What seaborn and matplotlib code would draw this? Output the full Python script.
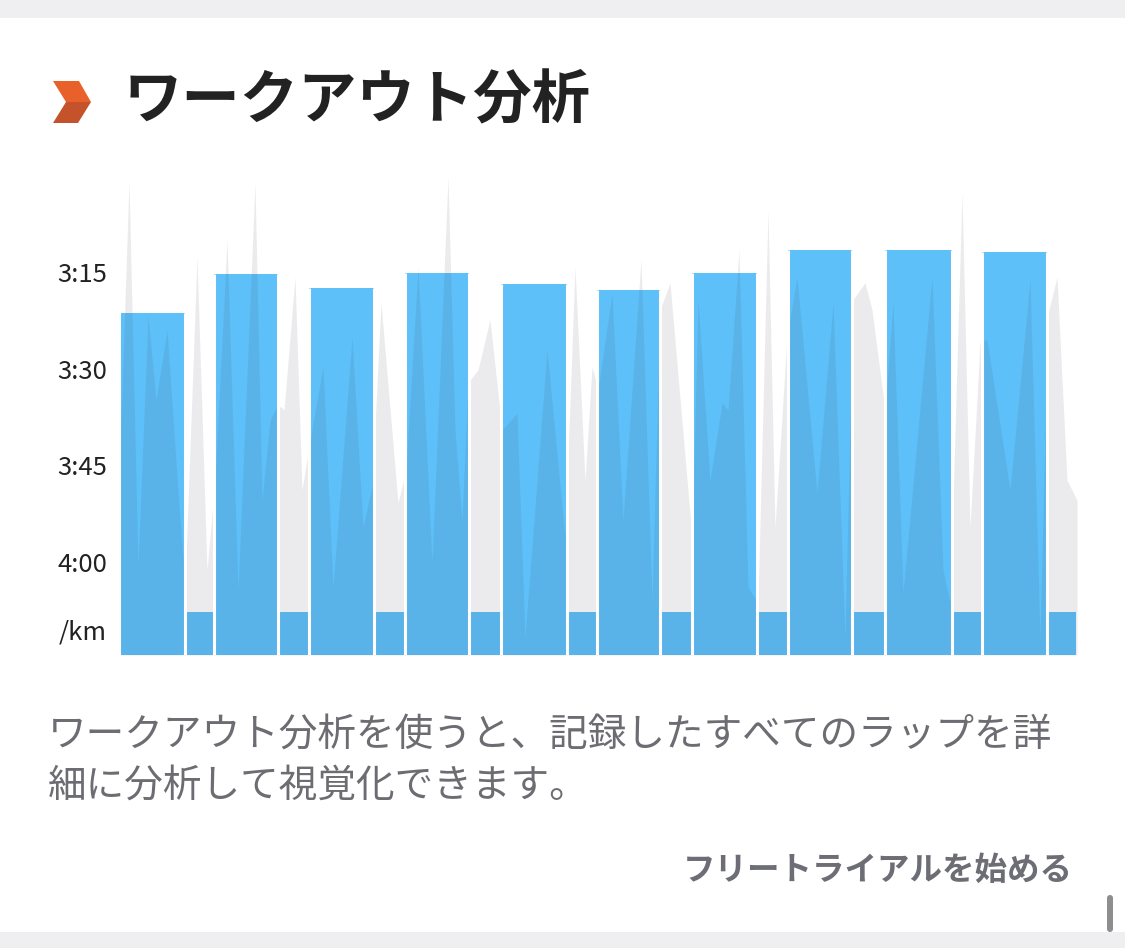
import numpy as np
import pandas as pd
import matplotlib
matplotlib.use('Agg')
import matplotlib.pyplot as plt
import seaborn as sns
from matplotlib.patches import Polygon, Rectangle, FancyBboxPatch

# lap data: duration (s) and pace (s/km); recovery laps shown at a fixed floor value
lap_sec = [192, 87, 192, 93, 195, 93, 192, 96, 198, 90,
           189, 96, 195, 93, 192, 99, 201, 90, 195, 87]
lap_pace = [201.4, 247.8, 195.3, 247.8, 197.5, 247.8, 195.2, 247.8, 196.9, 247.8,
            197.9, 247.8, 195.2, 247.8, 191.7, 247.8, 191.6, 247.8, 191.9, 247.8]

# raw pace trace (elapsed seconds, pace s/km)
trace_t = [0, 24, 51, 81, 105, 138, 174, 192, 228, 258, 282, 318, 351, 402, 423, 447,
           471, 489, 522, 543, 567, 606, 636, 693, 726, 753, 780, 831, 855, 891, 933,
           981, 1002, 1023, 1041, 1071, 1107, 1143, 1188, 1212, 1278, 1332, 1362, 1392,
           1413, 1431, 1473, 1506, 1560, 1593, 1617, 1647, 1713, 1731, 1767, 1803, 1821,
           1854, 1881, 1911, 1941, 1962, 1998, 2028, 2088, 2136, 2172, 2196, 2232, 2253,
           2292, 2316, 2346, 2433, 2466, 2487, 2523, 2547, 2577, 2598, 2667, 2727, 2757,
           2781, 2808, 2838, 2868]
trace_pace = [218.0, 181.0, 240.4, 201.7, 214.9, 204.0, 231.1, 243.5, 192.7, 241.2,
              227.3, 190.0, 244.3, 181.2, 230.4, 218.0, 215.6, 216.4, 195.8, 228.8,
              221.1, 209.7, 243.9, 205.1, 234.6, 228.3, 199.8, 230.8, 225.7, 194.2,
              240.1, 180.3, 219.5, 233.5, 212.2, 210.2, 202.4, 219.5, 216.9, 251.6,
              207.1, 236.1, 194.2, 227.3, 209.7, 213.3, 198.3, 233.5, 193.1, 245.9,
              200.9, 196.7, 236.1, 199.3, 227.3, 215.3, 216.4, 191.6, 243.9, 246.3,
              185.4, 234.6, 205.1, 195.8, 229.3, 199.8, 251.6, 199.3, 196.7, 200.9,
              216.4, 199.8, 244.8, 195.8, 241.2, 246.3, 182.7, 234.6, 206.0, 205.5,
              228.8, 196.2, 251.6, 201.4, 195.8, 227.3, 230.4]

tick_pace = [195, 210, 225, 240, 250.5]
tick_labels = ['3:15', '3:30', '3:45', '4:00', '/km']

floor = 254.4
top = 180.0

sns.set_theme(style='white')
plt.rcParams['font.family'] = ['Noto Sans CJK JP', 'DejaVu Sans']

fig = plt.figure(figsize=(11.25, 9.48), dpi=100)
fig.patch.set_facecolor('white')

# page background / card decorations in pixel coords
bg = fig.add_axes([0, 0, 1, 1], zorder=-1)
bg.set_xlim(0, 1125)
bg.set_ylim(948, 0)
bg.axis('off')
bg.add_patch(Rectangle((0, 0), 1125, 18, color='#efeff2', lw=0))
bg.add_patch(Rectangle((0, 932), 1125, 16, color='#efeff2', lw=0))
bg.add_patch(FancyBboxPatch((1107, 895), 6, 37, boxstyle='round,pad=0,rounding_size=3',
                            color='#8e8e8e', lw=0))

# chevron icon
bg.add_patch(Polygon([(53, 81), (79, 81), (91, 102), (66, 102)], closed=True,
                     color='#e8612a', lw=0))
bg.add_patch(Polygon([(66, 102), (91, 102), (78, 123), (53, 123)], closed=True,
                     color='#c4522a', lw=0))

bg.text(124, 101, 'ワークアウト分析', fontsize=42, fontweight='bold',
        color='#222222', ha='left', va='center')
bg.text(48, 735, 'ワークアウト分析を使うと、記録したすべてのラップを詳',
        fontsize=27.8, color='#6c6c72', ha='left', va='center')
bg.text(48, 786, '細に分析して視覚化できます。',
        fontsize=27.8, color='#6c6c72', ha='left', va='center')
bg.text(1073, 870, 'フリートライアルを始める', fontsize=23.4, fontweight='bold',
        color='#6d6d75', ha='right', va='center')

# chart
ax = fig.add_axes([121 / 1125, 1 - 655 / 948, 956 / 1125, 480 / 948])
ax.set_facecolor('none')

starts = np.cumsum([0] + lap_sec[:-1])
paces = np.array(lap_pace)
ax.bar(starts, paces - floor, bottom=floor, width=lap_sec, align='edge',
       color='#5ec0f8', linewidth=0, zorder=2)

df = pd.DataFrame({'t': trace_t, 'pace': trace_pace})
sns.lineplot(data=df, x='t', y='pace', ax=ax, color='#40415f', alpha=0.1,
             linewidth=0, zorder=3)
ax.fill_between(df['t'], df['pace'], floor, color='#40415f', alpha=0.1,
                linewidth=0, zorder=3)

# white separators between laps, full height of the taller neighbour
ends = starts + np.array(lap_sec)
sep_top = np.minimum(paces[:-1], paces[1:])
ax.vlines(ends[:-1], floor, sep_top, color='white', linewidth=2.2, zorder=4)

ax.set_xlim(0, 2868)
ax.set_ylim(floor, top)
ax.set_yticks(tick_pace, tick_labels)
ax.set_xticks([])
ax.set_xlabel('')
ax.set_ylabel('')
ax.tick_params(axis='y', length=0, pad=10, labelsize=18.5, labelcolor='#222222')
sns.despine(ax=ax, left=True, bottom=True)

fig.savefig('out.png', dpi=100)
